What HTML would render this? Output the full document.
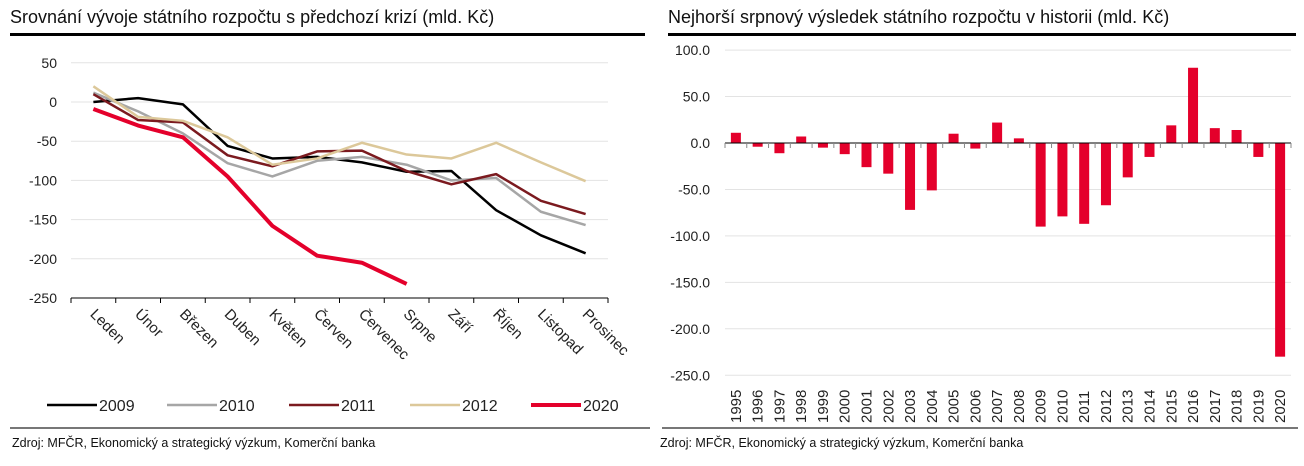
<!DOCTYPE html>
<html><head><meta charset="utf-8"><style>
body{margin:0;width:1304px;height:461px;background:#fff;overflow:hidden;font-family:"Liberation Sans",sans-serif;}
svg text{font-family:"Liberation Sans",sans-serif;}
</style></head><body>
<svg id="c" width="1304" height="461">
<text x="10" y="23" font-size="18" fill="#111">Srovnání vývoje státního rozpočtu s předchozí krizí (mld. Kč)</text>
<rect x="10" y="33" width="635" height="3" fill="#000"/>
<text x="668" y="23" font-size="18" fill="#111">Nejhorší srpnový výsledek státního rozpočtu v historii (mld. Kč)</text>
<rect x="668" y="33" width="628" height="3" fill="#000"/>
<rect x="10" y="427" width="640" height="2" fill="#777"/>
<rect x="662" y="427" width="636" height="2" fill="#777"/>
<text x="12" y="447" font-size="12.5" fill="#111">Zdroj: MFČR, Ekonomický a strategický výzkum, Komerční banka</text>
<text x="660" y="447" font-size="12.5" fill="#111">Zdroj: MFČR, Ekonomický a strategický výzkum, Komerční banka</text>
<g id="left"></g><g id="right"></g>
</svg>
<script>
const months=["Leden","Únor","Březen","Duben","Květen","Červen","Červenec","Srpne","Září","Říjen","Listopad","Prosinec"];
const s2009=[0,5,-3,-56,-72,-70,-77,-89,-88,-138,-170,-193];
const s2010=[12,-12,-40,-78,-95,-75,-70,-80,-100,-97,-140,-157];
const s2011=[10,-23,-26,-68,-82,-63,-62,-88,-105,-92,-126,-143];
const s2012=[20,-19,-24,-45,-80,-72,-52,-67,-72,-52,-77,-101];
const s2020=[-9,-30,-45,-95,-158,-196,-205,-232];
const leftTicks=[50,0,-50,-100,-150,-200,-250];
const years=["1995","1996","1997","1998","1999","2000","2001","2002","2003","2004","2005","2006","2007","2008","2009","2010","2011","2012","2013","2014","2015","2016","2017","2018","2019","2020"];
const budget=[11,-4,-11,7,-5,-12,-26,-33,-72,-51,10,-6,22,5,-90,-79,-87,-67,-37,-15,19,81,16,14,-15,-230];
const rightTicks=[100,50,0,-50,-100,-150,-200,-250];
const NS="http://www.w3.org/2000/svg";
function mk(p,t,a){const e=document.createElementNS(NS,t);for(const k in a)e.setAttribute(k,a[k]);p.appendChild(e);return e;}
const L=document.getElementById('left');
const lx0=71,lx1=608,lbw=(lx1-lx0)/12;
const ly=v=>102-v*39.2/50;
const lxc=i=>lx0+lbw*(i+0.5);
leftTicks.forEach(t=>{
 const g=mk(L,'line',{x1:lx0,x2:lx1,y1:ly(t),y2:ly(t),stroke:'#e3e3e3','stroke-width':1});
 
 const tx=mk(L,'text',{x:57,y:ly(t)+5,'text-anchor':'end','font-size':14,fill:'#222'});tx.textContent=t;
 
});
const ax=mk(L,'line',{x1:lx0,x2:lx1,y1:ly(-250),y2:ly(-250),stroke:'#000','stroke-width':1});

for(let i=0;i<=12;i++){const tk=mk(L,'line',{x1:lx0+lbw*i,x2:lx0+lbw*i,y1:ly(-250),y2:ly(-250)+5,stroke:'#000'});
 }
months.forEach((m,i)=>{const x=lxc(i)-4,y=ly(-250)+17;
 const t=mk(L,'text',{x:x,y:y,transform:`rotate(45 ${x} ${y})`,'font-size':15,fill:'#222'});t.textContent=m;
 });
const series=[["2009",s2009,'#000',2.5],["2010",s2010,'#a6a6a6',2.5],["2011",s2011,'#7b1a1f',2.5],["2012",s2012,'#dcc89a',2.5],["2020",s2020,'#e4002b',4]];
series.forEach(([n,d,c,w])=>{
 const p=mk(L,'polyline',{points:d.map((v,i)=>lxc(i)+','+ly(v)).join(' '),fill:'none',stroke:c,'stroke-width':w,'stroke-linejoin':'round'});
 
});
const legX=[47,167,289,410,531];
series.forEach(([n,d,c,w],i)=>{
 const g=mk(L,'g',{});
 mk(g,'line',{x1:legX[i],x2:legX[i]+50,y1:405,y2:405,stroke:c,'stroke-width':w});
 const t=mk(g,'text',{x:legX[i]+52,y:411,'font-size':16,fill:'#222'});t.textContent=n;
});
const R=document.getElementById('right');
const rx0=725,rx1=1291,rbw=(rx1-rx0)/26;
const ry=v=>143-v*0.929;
rightTicks.forEach(t=>{
 if(t!==0){const g=mk(R,'line',{x1:rx0,x2:rx1,y1:ry(t),y2:ry(t),stroke:'#e3e3e3'});
 }
 const tx=mk(R,'text',{x:710,y:ry(t)+5,'text-anchor':'end','font-size':14,fill:'#222'});tx.textContent=t.toFixed(1);
 
});
budget.forEach((v,i)=>{const x=rx0+rbw*(i+0.5);
 const b=mk(R,'rect',{x:x-5,y:Math.min(ry(v),ry(0)),width:10,height:Math.abs(ry(v)-ry(0)),fill:'#e4002b'});
 
 const t=mk(R,'text',{x:x+5,y:423,transform:`rotate(-90 ${x+5} 423)`,'font-size':15,fill:'#222'});t.textContent=years[i];
 
});
const zr=mk(R,'line',{x1:rx0,x2:rx1,y1:ry(0),y2:ry(0),stroke:'#000'});

for(let i=0;i<=26;i++){const tk=mk(R,'line',{x1:rx0+rbw*i,x2:rx0+rbw*i,y1:ry(0),y2:ry(0)+5,stroke:'#888'});
 }
</script>
</body></html>
